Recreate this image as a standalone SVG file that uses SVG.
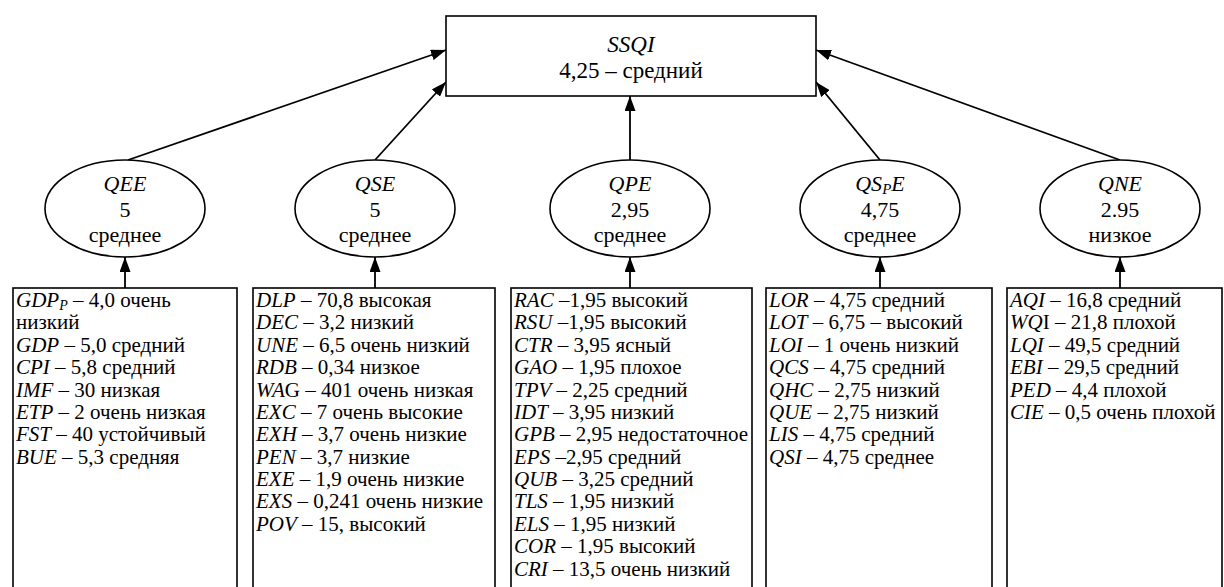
<svg xmlns="http://www.w3.org/2000/svg" width="1224" height="587" viewBox="0 0 1224 587">
<defs>
<style>
text{font-family:"Liberation Serif","Times New Roman",serif;font-size:21px;fill:#000}
.h{font-size:23px}
.e{font-size:22px}
.c{text-anchor:middle}
.i{font-style:italic}
.box{fill:#fff;stroke:#000;stroke-width:1.6}
.ln{stroke:#000;stroke-width:1.8;fill:none;marker-end:url(#ah)}
</style>
<marker id="ah" markerUnits="userSpaceOnUse" markerWidth="15" markerHeight="11" refX="15" refY="5.5" orient="auto">
<path d="M0,0 L15,5.5 L0,11 z" fill="#000"/>
</marker>
</defs>
<rect width="1224" height="587" fill="#fff"/>

<g id="connectors">
<line class="ln" x1="128" y1="160" x2="446" y2="50"/>
<line class="ln" x1="375" y1="160" x2="446" y2="82"/>
<line class="ln" x1="630" y1="160" x2="630" y2="96"/>
<line class="ln" x1="880" y1="160" x2="816" y2="82"/>
<line class="ln" x1="1120" y1="160" x2="816" y2="50"/>
<line class="ln" x1="125" y1="288" x2="125" y2="257"/>
<line class="ln" x1="375" y1="288" x2="375" y2="257"/>
<line class="ln" x1="630" y1="288" x2="630" y2="257"/>
<line class="ln" x1="880" y1="288" x2="880" y2="257"/>
<line class="ln" x1="1120" y1="288" x2="1120" y2="257"/>
</g>

<g id="SSQI">
<rect class="box" x="446" y="16" width="370" height="80"/>
<text class="h c i" x="631" y="52">SSQI</text>
<text class="h c" x="631" y="78">4,25 – средний</text>
</g>

<g id="QEE">
<ellipse class="box" cx="125" cy="208.5" rx="80" ry="48.5"/>
<text class="e c i" x="125" y="191">QEE</text>
<text class="e c" x="125" y="217">5</text>
<text class="e c" x="125" y="242">среднее</text>
</g>
<g id="QSE">
<ellipse class="box" cx="375" cy="208.5" rx="80" ry="48.5"/>
<text class="e c i" x="375" y="191">QSE</text>
<text class="e c" x="375" y="217">5</text>
<text class="e c" x="375" y="242">среднее</text>
</g>
<g id="QPE">
<ellipse class="box" cx="630" cy="208.5" rx="80" ry="48.5"/>
<text class="e c i" x="630" y="191">QPE</text>
<text class="e c" x="630" y="217">2,95</text>
<text class="e c" x="630" y="242">среднее</text>
</g>
<g id="QSpE">
<ellipse class="box" cx="880" cy="208.5" rx="80" ry="48.5"/>
<text class="e c i" x="880" y="191">QS<tspan font-size="15" dy="3">P</tspan><tspan dy="-3">E</tspan></text>
<text class="e c" x="880" y="217">4,75</text>
<text class="e c" x="880" y="242">среднее</text>
</g>
<g id="QNE">
<ellipse class="box" cx="1120" cy="208.5" rx="80" ry="48.5"/>
<text class="e c i" x="1120" y="191">QNE</text>
<text class="e c" x="1120" y="217">2.95</text>
<text class="e c" x="1120" y="242">низкое</text>
</g>

<g id="box-QEE">
<rect class="box" x="13" y="288" width="224" height="320"/>
<text x="16" y="307"><tspan class="i">GDP</tspan><tspan class="i" font-size="14" dy="3">P</tspan><tspan dy="-3"> – 4,0 очень</tspan></text>
<text x="16" y="329">низкий</text>
<text x="16" y="352"><tspan class="i">GDP</tspan> – 5,0 средний</text>
<text x="16" y="374"><tspan class="i">CPI</tspan> – 5,8 средний</text>
<text x="16" y="397"><tspan class="i">IMF</tspan> – 30 низкая</text>
<text x="16" y="419"><tspan class="i">ETP</tspan> – 2 очень низкая</text>
<text x="16" y="441"><tspan class="i">FST</tspan> – 40 устойчивый</text>
<text x="16" y="464"><tspan class="i">BUE</tspan> – 5,3 средняя</text>
</g>

<g id="box-QSE">
<rect class="box" x="253" y="288" width="242" height="320"/>
<text x="256" y="307"><tspan class="i">DLP</tspan> – 70,8 высокая</text>
<text x="256" y="329"><tspan class="i">DEC</tspan> – 3,2 низкий</text>
<text x="256" y="352"><tspan class="i">UNE</tspan> – 6,5 очень низкий</text>
<text x="256" y="374"><tspan class="i">RDB</tspan> – 0,34 низкое</text>
<text x="256" y="397"><tspan class="i">WA</tspan>G – 401 очень низкая</text>
<text x="256" y="419"><tspan class="i">EXC</tspan> – 7 очень высокие</text>
<text x="256" y="441"><tspan class="i">EXH</tspan> – 3,7 очень низкие</text>
<text x="256" y="464"><tspan class="i">PEN</tspan> – 3,7 низкие</text>
<text x="256" y="486"><tspan class="i">EXE</tspan> – 1,9 очень низкие</text>
<text x="256" y="508"><tspan class="i">EXS</tspan> – 0,241 очень низкие</text>
<text x="256" y="531"><tspan class="i">POV</tspan> – 15, высокий</text>
</g>

<g id="box-QPE">
<rect class="box" x="511" y="288" width="241" height="320"/>
<text x="514" y="307"><tspan class="i">RAC</tspan> –1,95 высокий</text>
<text x="514" y="329"><tspan class="i">RSU</tspan> –1,95 высокий</text>
<text x="514" y="352"><tspan class="i">CTR</tspan> – 3,95 ясный</text>
<text x="514" y="374"><tspan class="i">GAO</tspan> – 1,95 плохое</text>
<text x="514" y="397"><tspan class="i">TPV</tspan> – 2,25 средний</text>
<text x="514" y="419"><tspan class="i">IDT</tspan> – 3,95 низкий</text>
<text x="514" y="441"><tspan class="i">GPB</tspan> – 2,95 недостаточное</text>
<text x="514" y="464"><tspan class="i">EPS</tspan> –2,95 средний</text>
<text x="514" y="486"><tspan class="i">QUB</tspan> – 3,25 средний</text>
<text x="514" y="508"><tspan class="i">TLS</tspan> – 1,95 низкий</text>
<text x="514" y="531"><tspan class="i">ELS</tspan> – 1,95 низкий</text>
<text x="514" y="553"><tspan class="i">COR</tspan> – 1,95 высокий</text>
<text x="514" y="576"><tspan class="i">CRI</tspan> – 13,5 очень низкий</text>
</g>

<g id="box-QSpE">
<rect class="box" x="766" y="288" width="226" height="320"/>
<text x="769" y="307"><tspan class="i">LOR</tspan> – 4,75 средний</text>
<text x="769" y="329"><tspan class="i">LOT</tspan> – 6,75 – высокий</text>
<text x="769" y="352"><tspan class="i">LOI</tspan> – 1 очень низкий</text>
<text x="769" y="374"><tspan class="i">QCS</tspan> – 4,75 средний</text>
<text x="769" y="397"><tspan class="i">QHC</tspan> – 2,75 низкий</text>
<text x="769" y="419"><tspan class="i">QUE</tspan> – 2,75 низкий</text>
<text x="769" y="441"><tspan class="i">LIS</tspan> – 4,75 средний</text>
<text x="769" y="464"><tspan class="i">QSI</tspan> – 4,75 среднее</text>
</g>

<g id="box-QNE">
<rect class="box" x="1007" y="288" width="215" height="320"/>
<text x="1010" y="307"><tspan class="i">AQI</tspan> – 16,8 средний</text>
<text x="1010" y="329"><tspan class="i">WQ</tspan>I – 21,8 плохой</text>
<text x="1010" y="352"><tspan class="i">LQI</tspan> – 49,5 средний</text>
<text x="1010" y="374"><tspan class="i">EBI</tspan> – 29,5 средний</text>
<text x="1010" y="397"><tspan class="i">PED</tspan> – 4,4 плохой</text>
<text x="1010" y="419"><tspan class="i">CIE</tspan> – 0,5 очень плохой</text>
</g>
</svg>
